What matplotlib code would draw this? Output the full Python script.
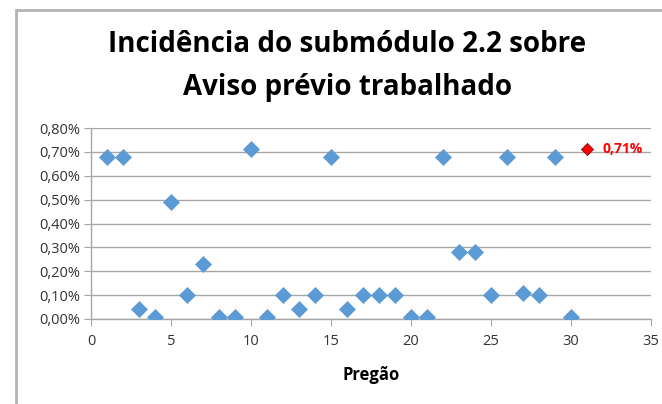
import matplotlib
matplotlib.use("Agg")
import matplotlib.pyplot as plt
from matplotlib.patches import Rectangle
from matplotlib.ticker import FuncFormatter, MultipleLocator

pregao = list(range(1, 31))
incidencia = [0.68, 0.68, 0.04, 0.01, 0.49, 0.10, 0.23, 0.01, 0.01, 0.71,
              0.01, 0.10, 0.04, 0.10, 0.68, 0.04, 0.10, 0.10, 0.10, 0.01,
              0.01, 0.68, 0.28, 0.28, 0.10, 0.68, 0.11, 0.10, 0.68, 0.01]
destaque_x = [31]
destaque_y = [0.71]
destaque_label = "0,71%"
title = "Incidência do submódulo 2.2 sobre\nAviso prévio trabalhado"
xlabel = "Pregão"

plt.rcParams['font.family'] = ['Open Sans', 'DejaVu Sans']

W, H = 662, 404
fig = plt.figure(figsize=(W / 100, H / 100), dpi=100)
fig.patch.set_facecolor("white")

# chart area border
fig.patches.append(Rectangle((16 / W, -0.1), 1.2, (H - 10) / H + 0.1,
                             transform=fig.transFigure, fill=False,
                             edgecolor="#b3b3b3", linewidth=2))

left, right, top, bottom = 91, 651, 128, 319
ax = fig.add_axes([left / W, (H - bottom) / H, (right - left) / W, (bottom - top) / H])

ax.scatter(pregao, incidencia, marker="D", s=75, color="#5B9BD5", zorder=3, linewidths=0)
ax.scatter(destaque_x, destaque_y, marker="D", s=38, color="#FF0000",
           edgecolors="#7a1010", linewidths=0.6, zorder=4)
ax.annotate(destaque_label, (destaque_x[0], destaque_y[0]), xytext=(11, 0),
            textcoords="offset points", color="#FF0000", fontsize=10,
            fontweight="bold", va="center", ha="left")

ax.set_xlim(0, 35)
ax.set_ylim(0, 0.80)
ax.xaxis.set_major_locator(MultipleLocator(5))
ax.yaxis.set_major_locator(MultipleLocator(0.10))
ax.yaxis.set_major_formatter(FuncFormatter(lambda v, p: f"{v:.2f}%".replace(".", ",")))

ax.grid(axis="y", color="#a6a6a6", linewidth=1)
ax.set_axisbelow(True)
for s in ["top", "right"]:
    ax.spines[s].set_visible(False)
for s in ["left", "bottom"]:
    ax.spines[s].set_color("#a6a6a6")
    ax.spines[s].set_linewidth(1)
ax.tick_params(axis="both", colors="#a6a6a6", labelcolor="#333333", labelsize=10.5,
               length=5, direction="out")
ax.tick_params(axis="x", pad=6)
ax.tick_params(axis="y", pad=3)

ax.set_xlabel(xlabel, fontsize=12, fontweight="bold", labelpad=12)
fig.text(0.525, (H - 66) / H, title, ha="center", va="center", fontsize=20,
         fontweight="bold", linespacing=1.6)

fig.savefig("out.png", dpi=100)
